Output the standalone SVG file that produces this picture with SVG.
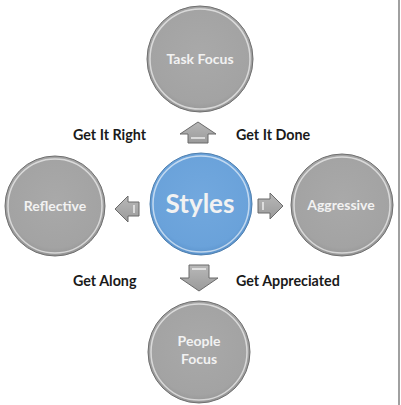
<svg xmlns="http://www.w3.org/2000/svg" width="401" height="405" viewBox="0 0 401 405">
<style>
.node circle.b{fill:url(#gg);stroke:#6f6f6f;stroke-width:1}
.node circle.h{fill:none;stroke:#ffffff;stroke-opacity:0.6;stroke-width:1.5}
.lbl{font-family:Lato,"Liberation Sans",sans-serif;font-weight:bold;fill:#f2f2f2;font-size:14px;text-anchor:middle}
.cap{font-family:Lato,"Liberation Sans",sans-serif;font-weight:bold;fill:#1a1a1a;font-size:14.3px}
.arr{fill:url(#ga);stroke:#6a6a6a;stroke-width:1}
.hl{stroke:#ffffff;stroke-width:1.5;stroke-opacity:0.8;fill:none}
</style>
<defs>
<radialGradient id="gg" cx="0.5" cy="0.45" r="0.55">
<stop offset="0" stop-color="#a9a9a9"/>
<stop offset="0.85" stop-color="#a3a3a3"/>
<stop offset="1" stop-color="#969696"/>
</radialGradient>
<radialGradient id="gb" cx="0.5" cy="0.45" r="0.55">
<stop offset="0" stop-color="#72a8de"/>
<stop offset="0.85" stop-color="#6aa2da"/>
<stop offset="1" stop-color="#5b93cc"/>
</radialGradient>
<linearGradient id="ga" x1="0" y1="0" x2="0" y2="1">
<stop offset="0" stop-color="#b8b8b8"/>
<stop offset="1" stop-color="#9a9a9a"/>
</linearGradient>
</defs>
<rect width="401" height="405" fill="#ffffff"/>
<line x1="399" y1="0" x2="399" y2="405" stroke="#a0a0a0" stroke-width="2"/>
<g id="connectors">
<g id="arrow-up"><polygon class="arr" points="198,122 216,134 208,134 208,143 188,143 188,134 180,134"/><line class="hl" x1="191" y1="138" x2="205" y2="138"/></g>
<g id="arrow-left"><polygon class="arr" points="115,209 128,196 128,202 139,202 139,216 128,216 128,222"/><line class="hl" x1="134" y1="205" x2="134" y2="213"/></g>
<g id="arrow-right"><polygon class="arr" points="283,206 270,193 270,199 258,199 258,213 270,213 270,219"/><line class="hl" x1="263" y1="202" x2="263" y2="210"/></g>
<g id="arrow-down"><polygon class="arr" points="199,291 218,278 209,278 209,265 189,265 189,278 180,278"/><line class="hl" x1="192" y1="269" x2="206" y2="269"/></g>
</g>
<g id="task-focus" class="node"><circle class="b" cx="200" cy="59" r="53"/><circle class="h" cx="200" cy="59" r="50"/><text class="lbl" x="200" y="64">Task Focus</text></g>
<g id="styles" class="node"><circle cx="201" cy="204" r="51" fill="url(#gb)" stroke="#4f7fae" stroke-width="1"/><circle class="h" cx="201" cy="204" r="48"/><text class="lbl" x="200" y="213" style="font-size:26px">Styles</text></g>
<g id="reflective" class="node"><circle class="b" cx="55" cy="206" r="50"/><circle class="h" cx="55" cy="206" r="47"/><text class="lbl" x="55" y="211">Reflective</text></g>
<g id="aggressive" class="node"><circle class="b" cx="342" cy="205" r="51"/><circle class="h" cx="342" cy="205" r="48"/><text class="lbl" x="341" y="210">Aggressive</text></g>
<g id="people-focus" class="node"><circle class="b" cx="199" cy="352" r="51"/><circle class="h" cx="199" cy="352" r="48"/><text class="lbl" x="199" y="346">People</text><text class="lbl" x="199" y="364">Focus</text></g>
<g id="captions">
<text class="cap" x="73" y="140">Get It Right</text>
<text class="cap" x="236" y="140">Get It Done</text>
<text class="cap" x="73" y="286">Get Along</text>
<text class="cap" x="236" y="286">Get Appreciated</text>
</g>
</svg>
